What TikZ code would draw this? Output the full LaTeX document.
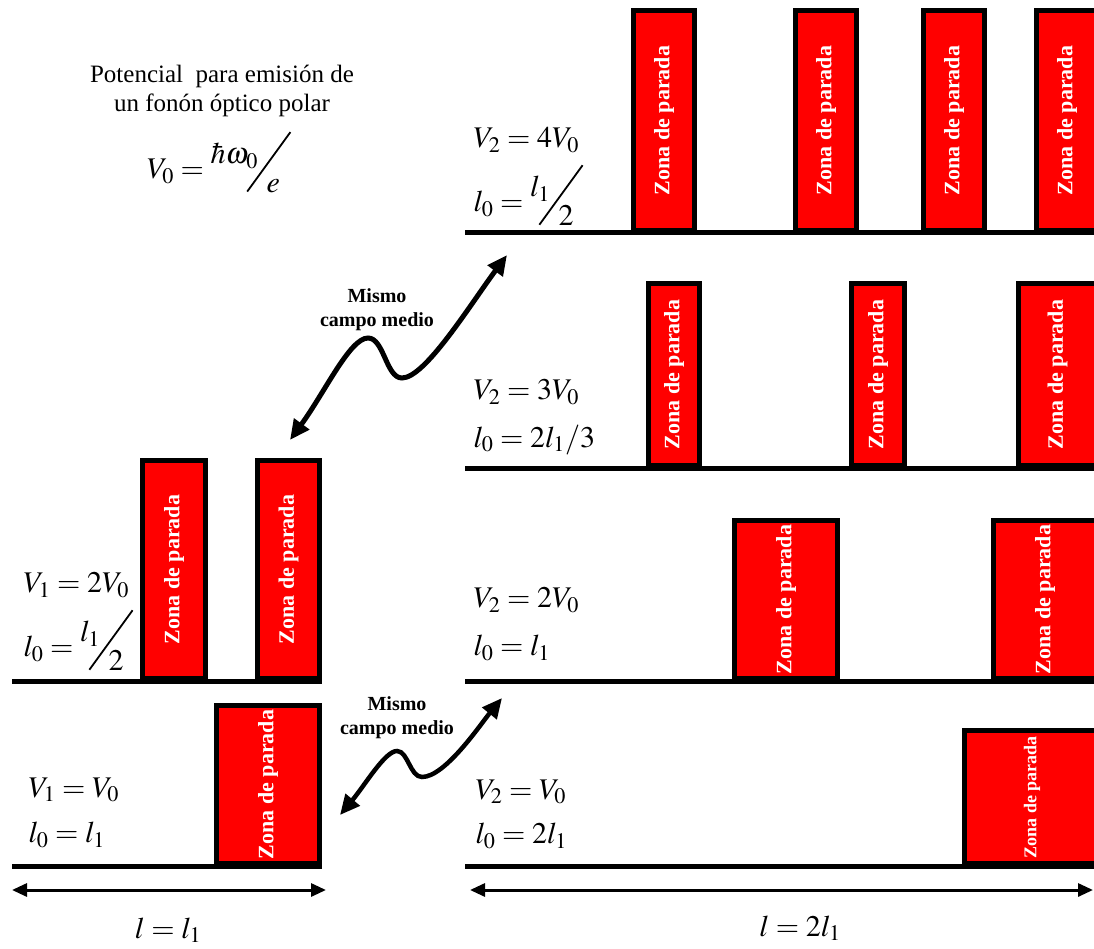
\documentclass[tikz,border=0pt]{standalone}
\usepackage{mathptmx}
\usepackage{fontspec}
\setmainfont{Liberation Serif}
\usepackage{graphicx}
\definecolor{ZonaRed}{RGB}{255,0,0}
\usetikzlibrary{arrows.meta,positioning}
\newcommand{\slfrac}[2]{\mbox{\raisebox{0.5em}{$#1$}\kern-0.38em\raisebox{-0.45em}{\rotatebox{54}{\rule{2.45em}{0.06em}}}\kern-0.82em\raisebox{-0.45em}{$#2$}\kern0.3em}}

\begin{document}
\begin{tikzpicture}[x=1pt,y=-1pt,
  zona/.style={draw=black,fill=ZonaRed,line width=5pt,inner sep=0pt,outer sep=0pt,anchor=south west,text=white,font=\bfseries\fontsize{22}{24}\selectfont},
  eq/.style={anchor=west,font=\fontsize{30}{34}\selectfont},
  ground/.style={line width=5pt},
  wave/.style={line width=4.5pt,{Triangle[length=20pt,width=18pt]}-{Triangle[length=20pt,width=18pt]}},
  dim/.style={line width=3pt,{Triangle[length=15pt,width=13pt]}-{Triangle[length=15pt,width=13pt]}},
  note/.style={align=center,font=\bfseries\fontsize{20}{24}\selectfont}]
\useasboundingbox (0,0) rectangle (1094,949);
\clip (0,0) rectangle (1094,949);

% title
\node[font=\fontsize{25}{29}\selectfont,align=center] (title) at (222,91) {Potencial\ \ para emisión de\\un fonón óptico polar};
\node[eq,anchor=center] (vzero) at (218,162) {$V_0 = \slfrac{\hbar\omega_0}{e}$};

% V2 = 4V0
\foreach \x/\w [count=\i] in {631/61,793/61,921/61,1034/61}
  \node[zona,minimum width=\w pt,minimum height=220pt] (a\i) at ({\x+2.5},230.5) {\rotatebox{90}{Zona de parada}};
\draw[ground] (465,233) -- (1094,233);
\node[eq] (vA) at (470,140) {$V_2 = 4V_0$};
\node[eq] (lA) at (470,195) {$l_0 = \slfrac{l_1}{2}$};

% V2 = 3V0
\foreach \x/\w [count=\i] in {646/51,849/53,1016/78}
  \node[zona,minimum width=\w pt,minimum height=182pt] (b\i) at ({\x+2.5},465.5) {\rotatebox{90}{Zona de parada}};
\draw[ground] (465,468) -- (1094,468);
\node[eq] (vB) at (470,392) {$V_2 = 3V_0$};
\node[eq] (lB) at (470,440) {$l_0 = 2l_1/3$};

% V2 = 2V0
\foreach \x/\w [count=\i] in {732/103,991/103}
  \node[zona,minimum width=\w pt,minimum height=158pt] (c\i) at ({\x+2.5},678.5) {\rotatebox{90}{Zona de parada}};
\draw[ground] (465,681) -- (1094,681);
\node[eq] (vC) at (470,600) {$V_2 = 2V_0$};
\node[eq] (lC) at (470,648) {$l_0 = l_1$};

% V2 = V0
\node[zona,minimum width=135pt,minimum height=133pt,font=\bfseries\fontsize{18}{20}\selectfont] (d1) at (964.5,863.5) {\rotatebox{90}{Zona de parada}};
\draw[ground] (465,866) -- (1094,866);
\node[eq] (vD) at (472,792) {$V_2 = V_0$};
\node[eq] (lD) at (472,836) {$l_0 = 2l_1$};

% V1 = 2V0
\foreach \x/\w [count=\i] in {140/63,255/62}
  \node[zona,minimum width=\w pt,minimum height=218pt] (e\i) at ({\x+2.5},678.5) {\rotatebox{90}{Zona de parada}};
\draw[ground] (12,681) -- (322,681);
\node[eq] (vE) at (20,585) {$V_1 = 2V_0$};
\node[eq] (lE) at (20,640) {$l_0 = \slfrac{l_1}{2}$};

% V1 = V0
\node[zona,minimum width=103pt,minimum height=158pt] (f1) at (216.5,863.5) {\rotatebox{90}{Zona de parada}};
\draw[ground] (12,866) -- (322,866);
\node[eq] (vF) at (25,790) {$V_1 = V_0$};
\node[eq] (lF) at (25,835) {$l_0 = l_1$};

% mismo campo medio
\coordinate (upA) at (290,440);
\coordinate (upB) at (507,255);
\draw[wave,line width=5pt] (upA) .. controls (325,392) and (350,338) .. (368,338)
  .. controls (384,338) and (386,378) .. (402,378)
  .. controls (425,378) and (470,305) .. (upB);
\node[note] (noteup) at (377,310) {Mismo\\campo medio};
\coordinate (loA) at (340,815);
\coordinate (loB) at (502,698);
\draw[wave] (loA) .. controls (365,785) and (385,751) .. (397,751)
  .. controls (408,751) and (410,777) .. (422,777)
  .. controls (445,777) and (480,725) .. (loB);
\node[note] (notelo) at (397,718) {Mismo\\campo medio};

% longitudes
\coordinate (dimL1) at (12,890);
\coordinate (dimL2) at (326,890);
\draw[dim] (dimL1) -- (dimL2);
\node[eq,anchor=center] (lenL) at (168,930) {$l = l_1$};
\coordinate (dimR1) at (470,890);
\coordinate (dimR2) at (1093,890);
\draw[dim] (dimR1) -- (dimR2);
\node[eq,anchor=center] (lenR) at (800,928) {$l = 2l_1$};
\end{tikzpicture}
\end{document}
